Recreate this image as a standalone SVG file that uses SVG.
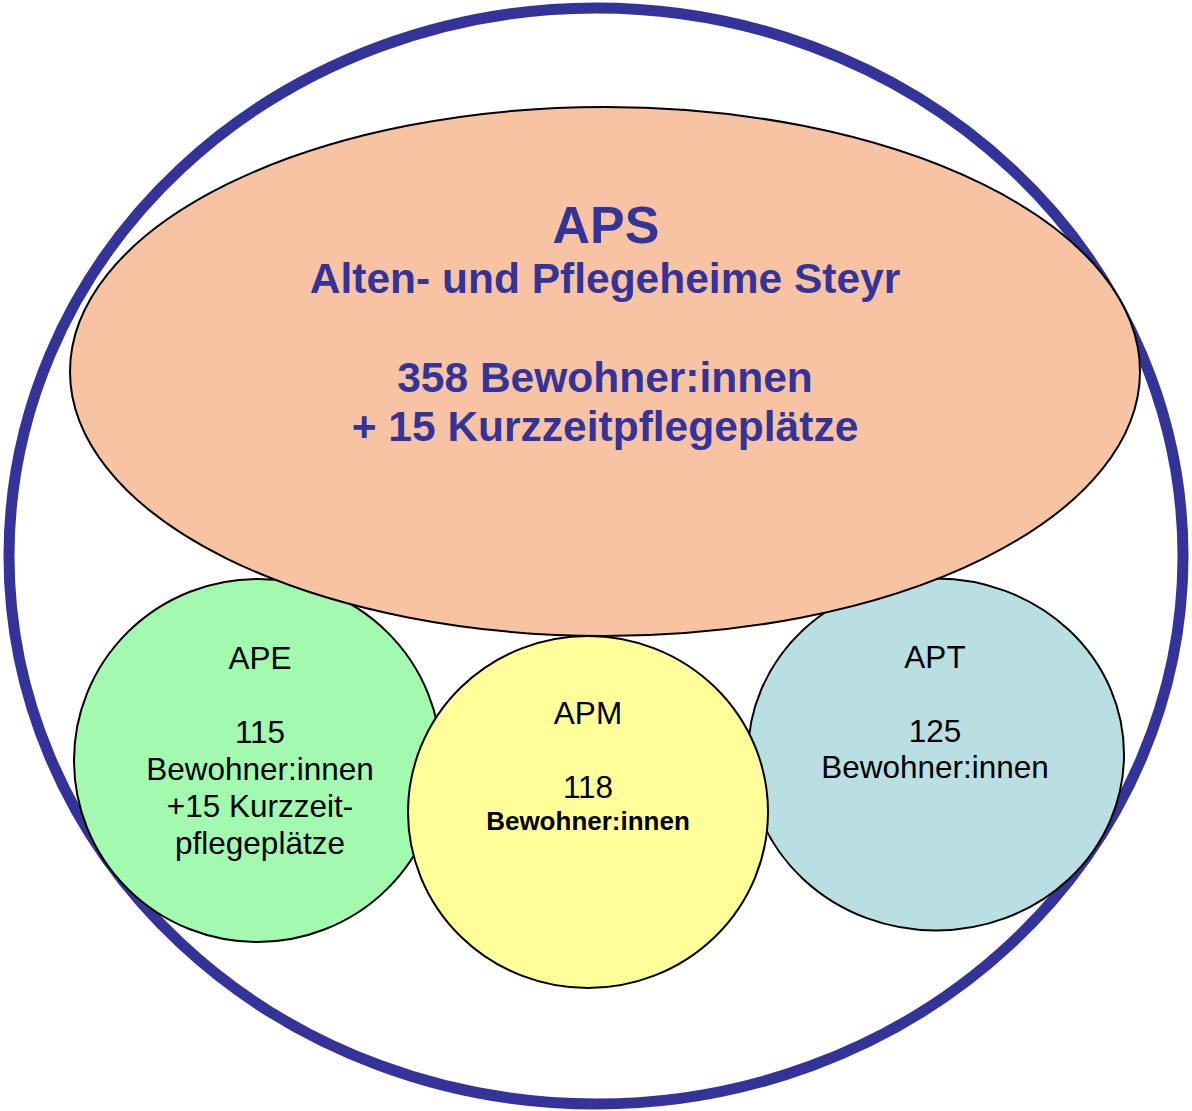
<svg xmlns="http://www.w3.org/2000/svg" width="1192" height="1111" viewBox="0 0 1192 1111">
  <style>
    .shape { stroke: #000; stroke-width: 2; }
    .big { font-family: "Liberation Sans", Arial, sans-serif; font-weight: bold; fill: #333399; text-anchor: middle; font-size: 42.5px; }
    .small { font-family: "Liberation Sans", Arial, sans-serif; fill: #000; text-anchor: middle; font-size: 31.5px; }
  </style>
  <rect width="1192" height="1111" fill="#fff"/>
  <g id="outer">
    <ellipse cx="596" cy="556" rx="587" ry="548" fill="none" stroke="#333399" stroke-width="11"/>
  </g>
  <g id="connectors"></g>
  <g id="ape">
    <ellipse class="shape" cx="257.5" cy="760.5" rx="183.5" ry="181.5" fill="#A2FAAE"/>
    <text class="small" x="260" y="669">APE</text>
    <text class="small" x="260" y="743">115</text>
    <text class="small" x="260" y="780">Bewohner:innen</text>
    <text class="small" x="260" y="817">+15 Kurzzeit-</text>
    <text class="small" x="260" y="854">pflegeplätze</text>
  </g>
  <g id="apt">
    <ellipse class="shape" cx="936" cy="754.5" rx="188" ry="176" fill="#BADFE2"/>
    <text class="small" x="935" y="668">APT</text>
    <text class="small" x="935" y="742">125</text>
    <text class="small" x="935" y="778">Bewohner:innen</text>
  </g>
  <g id="aps">
    <ellipse class="shape" cx="605" cy="371.5" rx="535" ry="264.5" fill="#F8C3A3"/>
    <text class="big" x="606" y="243" style="font-size:52px">APS</text>
    <text class="big" x="605" y="293">Alten- und Pflegeheime Steyr</text>
    <text class="big" x="605" y="392">358 Bewohner:innen</text>
    <text class="big" x="605" y="441">+ 15 Kurzzeitpflegeplätze</text>
  </g>
  <g id="apm">
    <ellipse class="shape" cx="588" cy="812" rx="180" ry="176" fill="#FFFF99"/>
    <text class="small" x="588" y="724">APM</text>
    <text class="small" x="588" y="798">118</text>
    <text class="small" x="588" y="830" style="font-size:26px;font-weight:bold">Bewohner:innen</text>
  </g>
</svg>
